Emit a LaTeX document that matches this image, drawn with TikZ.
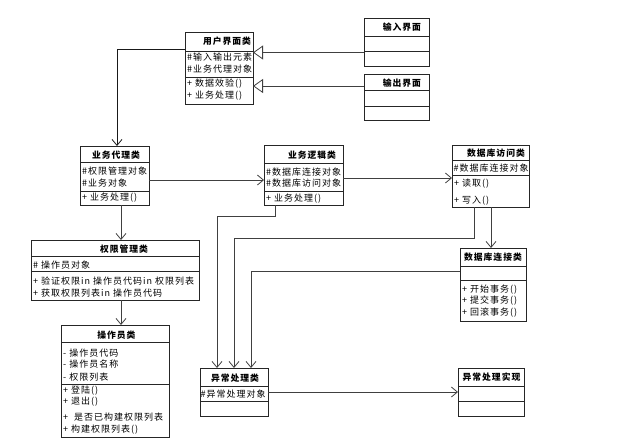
\documentclass[tikz,border=0pt]{standalone}
\usepackage{fontspec}
\newfontfamily\cjk[LetterSpace=11]{Noto Sans CJK SC}
\usetikzlibrary{arrows.meta}
\begin{document}
\begin{tikzpicture}[x=1pt,y=-1pt,
 cls/.style={draw=black!85, line width=1pt, fill=white, inner sep=0pt, outer sep=0pt, anchor=north west},
 txt/.style={anchor=west, inner sep=0pt, font=\cjk\fontsize{9}{9}\selectfont},
 ttl/.style={anchor=center, inner sep=0pt, font=\cjk\bfseries\fontsize{8.8}{9}\selectfont},
 sep/.style={draw=black!85, line width=0.8pt},
 dep/.style={draw=black!75, line width=0.8pt, -{Straight Barb[length=6pt,width=10pt]}},
 inh/.style={draw=black!75, line width=0.8pt, -{Triangle[open, fill=white, length=10pt, width=14pt]}}]
\useasboundingbox (0,0) rectangle (639,440);

% 用户界面类
\node[cls, minimum width=68pt, minimum height=72pt] (ui) at (185,32) {};
\draw[sep] (185,51) -- (253,51) (185,77) -- (253,77);
\node[ttl] (uit) at (227,41.5) {用户界面类};
\node[txt] (ui1) at (187,57.5) {\#输入输出元素};
\node[txt] (ui2) at (187,69) {\#业务代理对象};
\node[txt] (ui3) at (187,84) {+ 数据效验()};
\node[txt] (ui4) at (187,96) {+ 业务处理()};

% 输入界面
\node[cls, minimum width=65pt, minimum height=48pt] (in) at (364,18) {};
\draw[sep] (364,36) -- (429,36) (364,51.5) -- (429,51.5);
\node[ttl] (int) at (402,27) {输入界面};

% 输出界面
\node[cls, minimum width=65pt, minimum height=46pt] (out) at (364,74) {};
\draw[sep] (364,90.5) -- (429,90.5) (364,106) -- (429,106);
\node[ttl] (outt) at (402,83) {输出界面};

% 业务代理类
\node[cls, minimum width=69pt, minimum height=59pt] (agent) at (80,146) {};
\draw[sep] (80,162.5) -- (149,162.5) (80,191) -- (149,191);
\node[ttl] (agt) at (116,155) {业务代理类};
\node[txt] (ag1) at (82,171) {\#权限管理对象};
\node[txt] (ag2) at (82,182.7) {\#业务对象};
\node[txt] (ag3) at (82,198) {+ 业务处理()};

% 业务逻辑类
\node[cls, minimum width=79pt, minimum height=60pt] (logic) at (264,145) {};
\draw[sep] (264,163.3) -- (343,163.3) (264,191.7) -- (343,191.7);
\node[ttl] (lgt) at (312,155) {业务逻辑类};
\node[txt] (lg1) at (266,171.7) {\#数据库连接对象};
\node[txt] (lg2) at (266,183.3) {\#数据库访问对象};
\node[txt] (lg3) at (266,198.3) {+ 业务处理()};

% 数据库访问类
\node[cls, minimum width=77pt, minimum height=62pt] (dba) at (452,145) {};
\draw[sep] (452,160.7) -- (529,160.7) (452,175) -- (529,175);
\node[ttl] (dbat) at (496,153) {数据库访问类};
\node[txt] (dba1) at (453.5,168.5) {\#数据库连接对象};
\node[txt] (dba2) at (454,183.3) {+ 读取()};
\node[txt] (dba3) at (454,200.5) {+ 写入()};

% 数据库连接类
\node[cls, minimum width=66pt, minimum height=73pt] (dbc) at (460,248) {};
\draw[sep] (460,266.7) -- (526,266.7) (460,280) -- (526,280);
\node[ttl] (dbct) at (493,257) {数据库连接类};
\node[txt] (dbc1) at (462,289.3) {+ 开始事务()};
\node[txt] (dbc2) at (462,301) {+ 提交事务()};
\node[txt] (dbc3) at (462,312.3) {+ 回滚事务()};

% 权限管理类
\node[cls, minimum width=168pt, minimum height=60pt] (perm) at (31,240) {};
\draw[sep] (31,256.7) -- (199,256.7) (31,271.7) -- (199,271.7);
\node[ttl] (pmt) at (124,249) {权限管理类};
\node[txt] (pm1) at (33,265) {\# 操作员对象};
\node[txt] (pm2) at (33,281) {+ 验证权限in 操作员代码in 权限列表};
\node[txt] (pm3) at (33,293.3) {+ 获取权限列表in 操作员代码};

% 操作员类
\node[cls, minimum width=108pt, minimum height=112pt] (oper) at (61,325) {};
\draw[sep] (61,342.7) -- (169,342.7) (61,384.3) -- (169,384.3);
\node[ttl] (opt) at (116.5,335) {操作员类};
\node[txt] (op1) at (63,352.7) {- 操作员代码};
\node[txt] (op2) at (63,364) {- 操作员名称};
\node[txt] (op3) at (63,376.7) {- 权限列表};
\node[txt] (op4) at (63,391) {+ 登陆()};
\node[txt] (op5) at (63,401.7) {+ 退出()};
\node[txt] (op6) at (63,416.7) {+\ \ 是否已构建权限列表};
\node[txt] (op7) at (63,429.3) {+ 构建权限列表()};

% 异常处理类
\node[cls, minimum width=68pt, minimum height=48pt] (exc) at (200,368) {};
\draw[sep] (200,386) -- (268,386) (200,401) -- (268,401);
\node[ttl] (exct) at (235,378) {异常处理类};
\node[txt] (exc1) at (200.5,394.3) {\#异常处理对象};

% 异常处理实现
\node[cls, minimum width=66pt, minimum height=48pt] (exi) at (458,368) {};
\draw[sep] (458,386) -- (524,386) (458,401) -- (524,401);
\node[ttl] (exit) at (491.5,377.5) {异常处理实现};

% connectors
\draw[dep, draw=black!90] ([yshift=-17pt]ui.north west) -| ([xshift=37pt]agent.north west);
\draw[dep] ([xshift=41pt]agent.south west) -- ([xshift=41pt]agent.south west |- perm.north);
\draw[dep] ([xshift=90pt]perm.south west) -- ([xshift=90pt]perm.south west |- oper.north);
\draw[inh] ([yshift=-34.5pt]in.north west) -- ([yshift=-34.5pt]in.north west -| ui.east);
\draw[inh] ([yshift=-12pt]out.north west) -- ([yshift=-12pt]out.north west -| ui.east);
\draw[dep] ([yshift=-34pt]agent.north east) -- ([yshift=-34pt]agent.north east -| logic.west);
\draw[dep] ([yshift=-33pt]logic.north east) -- ([yshift=-33pt]logic.north east -| dba.west);
\draw[dep] ([xshift=39pt]dba.south west) -- ([xshift=39pt]dba.south west |- dbc.north);
\draw[dep] ([xshift=11pt]logic.south west) -- ++(0,11) -| ([xshift=17pt]exc.north west);
\draw[dep] ([xshift=22pt]dba.south west) -- ++(0,31) -| ([xshift=34pt]exc.north west);
\draw[dep] ([yshift=-23.5pt]dbc.north west) -| ([xshift=51pt]exc.north west);
\draw[dep] ([yshift=-24pt]exc.north east) -- ([yshift=-24pt]exc.north east -| exi.west);
\end{tikzpicture}
\end{document}
